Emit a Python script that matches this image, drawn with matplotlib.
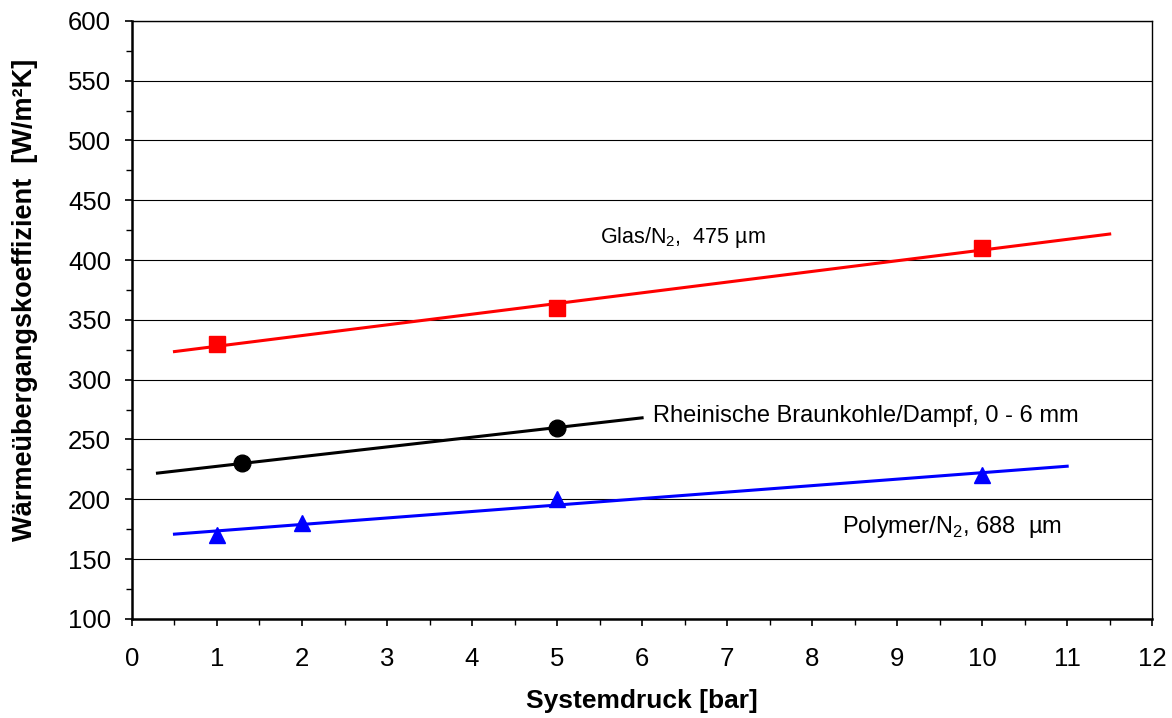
import matplotlib
matplotlib.use("Agg")
import matplotlib.pyplot as plt
import numpy as np
from matplotlib.ticker import MultipleLocator

plt.rcParams["font.family"] = ["Liberation Sans", "DejaVu Sans"]
plt.rcParams["mathtext.fontset"] = "custom"
plt.rcParams["mathtext.rm"] = "Liberation Sans"

# measured points
glas_x = [1, 5, 10]
glas_y = [330, 360, 410]
kohle_x = [1.3, 5]
kohle_y = [230, 260]
poly_x = [1, 2, 5, 10]
poly_y = [170, 180, 200, 220]

# range of the fit lines
glas_range = [0.5, 11.5]
kohle_range = [0.3, 6.0]
poly_range = [0.5, 11.0]


def fit_line(x, y, xr):
    k, d = np.polyfit(x, y, 1)
    xs = np.array(xr)
    return xs, k * xs + d


fig = plt.figure(figsize=(11.72, 7.18), dpi=100)
ax = fig.add_axes([0.1126, 0.138, 0.8705, 0.833])

ax.set_xlim(0, 12)
ax.set_ylim(100, 600)
ax.xaxis.set_major_locator(MultipleLocator(1))
ax.xaxis.set_minor_locator(MultipleLocator(0.5))
ax.yaxis.set_major_locator(MultipleLocator(50))
ax.yaxis.set_minor_locator(MultipleLocator(25))
ax.grid(axis="y", which="major", color="black", lw=0.8)
ax.set_axisbelow(True)

for sp in ["left", "bottom"]:
    ax.spines[sp].set_linewidth(1.8)
ax.spines["right"].set_linewidth(1.0)
ax.spines["top"].set_linewidth(1.0)

ax.tick_params(which="major", direction="out", length=5, width=1.2,
               labelsize=18.5, top=False, right=False)
ax.tick_params(axis="y", which="major", pad=10)
ax.tick_params(axis="x", which="major", pad=15)
ax.tick_params(which="minor", direction="out", length=4, width=1.0,
               top=False, right=False)

series = [
    (glas_x, glas_y, glas_range, "#ff0000", "s", 11),
    (kohle_x, kohle_y, kohle_range, "black", "o", 12),
    (poly_x, poly_y, poly_range, "#0000ff", "^", 12),
]
for xs, ys, xr, col, mk, ms in series:
    lx, ly = fit_line(xs, ys, xr)
    ax.plot(lx, ly, color=col, lw=2.2, zorder=3)
    ax.plot(xs, ys, ls="none", marker=mk, ms=ms, color=col, zorder=4)

ax.text(5.51, 414, r"Glas/N$_\mathregular{2}$,  475 µm", fontsize=15.5,
        ha="left", va="baseline")
ax.text(6.13, 265, "Rheinische Braunkohle/Dampf, 0 - 6 mm", fontsize=17,
        ha="left", va="baseline")
ax.text(8.35, 172, r"Polymer/N$_\mathregular{2}$, 688  µm", fontsize=17,
        ha="left", va="baseline")

ax.set_xlabel("Systemdruck [bar]", fontsize=19, fontweight="bold")
ax.xaxis.set_label_coords(0.5, -0.118)
ax.set_ylabel("Wärmeübergangskoeffizient  [W/m²K]", fontsize=19.5,
              fontweight="bold")
ax.yaxis.set_label_coords(-0.092, 0.533)

fig.savefig("out.png", dpi=100)
